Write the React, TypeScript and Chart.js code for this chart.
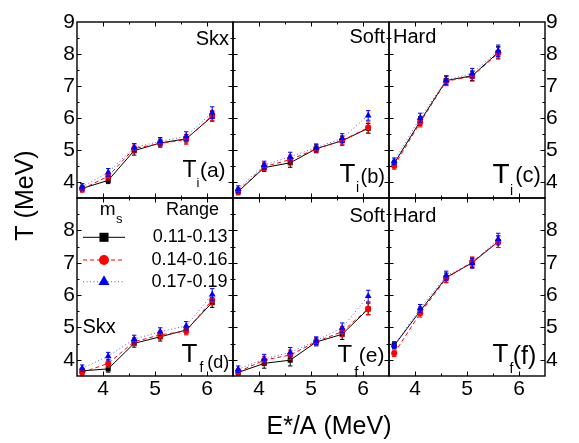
import React, { useEffect, useRef } from "react";
import { Chart, registerables } from "chart.js";

Chart.register(...registerables);

const FONT = "'Liberation Sans', Arial, Helvetica, sans-serif";
const W = 579;
const H = 443;

// Excitation energy per nucleon, E*/A (MeV)
const energySkxSoft = [3.6, 4.1, 4.6, 5.1, 5.6, 6.1];
const energyHard = [3.6, 4.1, 4.6, 5.1, 5.6];

const xTickValues = [4, 5, 6];
const yTickValuesTop = [4, 5, 6, 7, 8, 9];
const yTickValuesBottom = [4, 5, 6, 7, 8];

const msRanges = ["0.11-0.13", "0.14-0.16", "0.17-0.19"];

// Initial temperature T_i (MeV)
const tiSkxLow = [3.8, 4.05, 4.98, 5.22, 5.35, 6.05];
const tiSkxMid = [3.78, 4.18, 5.05, 5.2, 5.33, 6.08];
const tiSkxHigh = [3.85, 4.3, 5.08, 5.27, 5.43, 6.17];
const tiSoftLow = [3.7, 4.45, 4.6, 5.04, 5.29, 5.68];
const tiSoftMid = [3.72, 4.48, 4.7, 5.03, 5.3, 5.7];
const tiSoftHigh = [3.78, 4.53, 4.79, 5.07, 5.37, 6.08];
const tiHardLow = [4.58, 5.9, 7.17, 7.32, 8.05];
const tiHardMid = [4.5, 5.86, 7.15, 7.3, 8.02];
const tiHardHigh = [4.65, 6.01, 7.18, 7.4, 8.1];

// Final temperature T_f (MeV)
const tfSkxLow = [3.66, 3.72, 4.51, 4.71, 4.92, 5.77];
const tfSkxMid = [3.61, 3.89, 4.56, 4.77, 4.89, 5.85];
const tfSkxHigh = [3.74, 4.11, 4.64, 4.87, 5.05, 6.02];
const tfSoftLow = [3.61, 3.89, 3.99, 4.55, 4.79, 5.57];
const tfSoftMid = [3.63, 3.99, 4.15, 4.56, 4.87, 5.58];
const tfSoftHigh = [3.71, 4.03, 4.23, 4.59, 4.99, 5.97];
const tfHardLow = [4.44, 5.51, 6.54, 7.0, 7.65];
const tfHardMid = [4.2, 5.44, 6.52, 7.03, 7.65];
const tfHardHigh = [4.46, 5.59, 6.6, 6.98, 7.73];

// Statistical uncertainties (MeV)
const tiSkxLowErr = [0.1, 0.1, 0.14, 0.12, 0.13, 0.15];
const tiSkxMidErr = [0.1, 0.12, 0.14, 0.12, 0.15, 0.15];
const tiSkxHighErr = [0.1, 0.12, 0.12, 0.12, 0.14, 0.18];
const tiSoftLowErr = [0.1, 0.12, 0.14, 0.12, 0.14, 0.15];
const tiSoftMidErr = [0.1, 0.12, 0.14, 0.12, 0.14, 0.18];
const tiSoftHighErr = [0.1, 0.12, 0.14, 0.12, 0.14, 0.15];
const tiHardLowErr = [0.1, 0.14, 0.14, 0.15, 0.18];
const tiHardMidErr = [0.1, 0.14, 0.14, 0.15, 0.18];
const tiHardHighErr = [0.1, 0.14, 0.14, 0.15, 0.18];
const tfSkxLowErr = [0.08, 0.1, 0.12, 0.13, 0.12, 0.15];
const tfSkxMidErr = [0.1, 0.12, 0.12, 0.12, 0.12, 0.15];
const tfSkxHighErr = [0.1, 0.12, 0.12, 0.12, 0.13, 0.18];
const tfSoftLowErr = [0.08, 0.15, 0.18, 0.12, 0.16, 0.18];
const tfSoftMidErr = [0.1, 0.12, 0.15, 0.12, 0.16, 0.18];
const tfSoftHighErr = [0.1, 0.14, 0.15, 0.12, 0.15, 0.18];
const tfHardLowErr = [0.1, 0.12, 0.14, 0.15, 0.18];
const tfHardMidErr = [0.1, 0.12, 0.14, 0.15, 0.18];
const tfHardHighErr = [0.1, 0.12, 0.14, 0.15, 0.18];

// Panel grid (canvas pixels)
const COLS = [77, 233, 389, 545];
const ROWS = [22, 198, 376];
// Space reserved for tick labels outside a panel
const Y_LABEL_BAND = 30;
const X_LABEL_BAND = 30;

const SERIES_STYLE = [
  { line: "#000000", marker: "#000000", dash: [] as number[], pointStyle: "rect", radius: 3.6, legendR: 6.4 },
  { line: "#ff0000", marker: "#ff0000", dash: [4, 3], pointStyle: "circle", radius: 3, legendR: 5 },
  { line: "#5555ff", marker: "#0000ff", dash: [1, 2.5], pointStyle: "triangle", radius: 3.9, legendR: 6.4 },
];

type TLabel = {
  sub: string;
  tag: string;
  x: number;
  base: number;
  tSize: number;
  subSize: number;
  subDrop: number;
  subGap: number;
  tagSize: number;
  tagDrop: number;
  tagGap: number;
};

type PanelSpec = {
  col: number;
  row: number;
  x: number[];
  series: number[][];
  errors: number[][];
  yTicks: number[];
  yLabels: "left" | "right" | null;
  xLabels: boolean;
  eos: { text: string; align: "left" | "right"; dx: number; base: number };
  tLabel: TLabel;
  legend?: boolean;
  titles?: boolean;
};

const PANELS: PanelSpec[] = [
  {
    col: 0, row: 0, x: energySkxSoft,
    series: [tiSkxLow, tiSkxMid, tiSkxHigh],
    errors: [tiSkxLowErr, tiSkxMidErr, tiSkxHighErr],
    yTicks: yTickValuesTop, yLabels: "left", xLabels: false,
    eos: { text: "Skx", align: "right", dx: -4, base: 23 },
    tLabel: { sub: "i", tag: "(a)", x: 105.5, base: 154.7, tSize: 23, subSize: 13, subDrop: 10, subGap: 0, tagSize: 21, tagDrop: 0, tagGap: 0.5 },
    titles: true,
  },
  {
    col: 1, row: 0, x: energySkxSoft,
    series: [tiSoftLow, tiSoftMid, tiSoftHigh],
    errors: [tiSoftLowErr, tiSoftMidErr, tiSoftHighErr],
    yTicks: yTickValuesTop, yLabels: null, xLabels: false,
    eos: { text: "Soft", align: "right", dx: -4, base: 21 },
    tLabel: { sub: "i", tag: "(b)", x: 106.5, base: 159.7, tSize: 26, subSize: 14, subDrop: 10, subGap: 0.5, tagSize: 20, tagDrop: 1, tagGap: 1.5 },
  },
  {
    col: 2, row: 0, x: energyHard,
    series: [tiHardLow, tiHardMid, tiHardHigh],
    errors: [tiHardLowErr, tiHardMidErr, tiHardHighErr],
    yTicks: yTickValuesTop, yLabels: "right", xLabels: false,
    eos: { text: "Hard", align: "left", dx: 4, base: 21 },
    tLabel: { sub: "i", tag: "(c)", x: 103.5, base: 161.3, tSize: 28, subSize: 14, subDrop: 11.7, subGap: 0.5, tagSize: 22, tagDrop: -1.3, tagGap: 2 },
  },
  {
    col: 0, row: 1, x: energySkxSoft,
    series: [tfSkxLow, tfSkxMid, tfSkxHigh],
    errors: [tfSkxLowErr, tfSkxMidErr, tfSkxHighErr],
    yTicks: yTickValuesBottom, yLabels: "left", xLabels: true,
    eos: { text: "Skx", align: "left", dx: 5.5, base: 135 },
    tLabel: { sub: "f", tag: "(d)", x: 104.5, base: 163.7, tSize: 26, subSize: 14, subDrop: 10, subGap: 2, tagSize: 18, tagDrop: 6.3, tagGap: 4 },
    legend: true,
  },
  {
    col: 1, row: 1, x: energySkxSoft,
    series: [tfSoftLow, tfSoftMid, tfSoftHigh],
    errors: [tfSoftLowErr, tfSoftMidErr, tfSoftHighErr],
    yTicks: yTickValuesBottom, yLabels: null, xLabels: true,
    eos: { text: "Soft", align: "right", dx: -4, base: 23.7 },
    tLabel: { sub: "f", tag: "(e)", x: 104.5, base: 163.7, tSize: 24, subSize: 15, subDrop: 15, subGap: 2, tagSize: 21, tagDrop: 0, tagGap: 0.5 },
  },
  {
    col: 2, row: 1, x: energyHard,
    series: [tfHardLow, tfHardMid, tfHardHigh],
    errors: [tfHardLowErr, tfHardMidErr, tfHardHighErr],
    yTicks: yTickValuesBottom, yLabels: "right", xLabels: true,
    eos: { text: "Hard", align: "left", dx: 4, base: 23.7 },
    tLabel: { sub: "f", tag: "(f)", x: 103.5, base: 163.7, tSize: 26, subSize: 14, subDrop: 11.3, subGap: 1, tagSize: 25, tagDrop: 2.3, tagGap: -0.5 },
  },
];

const font = (size: number) => `${size}px ${FONT}`;

function drawMarker(ctx: CanvasRenderingContext2D, style: string, x: number, y: number, r: number, color: string) {
  ctx.fillStyle = color;
  ctx.beginPath();
  if (style === "rect") {
    const s = r * Math.SQRT1_2;
    ctx.rect(x - s, y - s, 2 * s, 2 * s);
  } else if (style === "triangle") {
    let a = 0;
    ctx.moveTo(x + Math.sin(a) * r, y - Math.cos(a) * r);
    a += (2 * Math.PI) / 3;
    ctx.lineTo(x + Math.sin(a) * r, y - Math.cos(a) * r);
    a += (2 * Math.PI) / 3;
    ctx.lineTo(x + Math.sin(a) * r, y - Math.cos(a) * r);
    ctx.closePath();
  } else {
    ctx.arc(x, y, r, 0, Math.PI * 2);
  }
  ctx.fill();
}

// Vertical error bars with caps, drawn under each dataset's markers
const errorBarPlugin = {
  id: "errorBars",
  beforeDatasetDraw(chart: any, args: any) {
    const ds = chart.data.datasets[args.index];
    const errs: number[] | undefined = ds.errors;
    if (!errs) return;
    const { ctx } = chart;
    const yScale = chart.scales.y;
    ctx.save();
    ctx.strokeStyle = ds.pointBackgroundColor;
    ctx.lineWidth = 1;
    ctx.setLineDash([]);
    ctx.beginPath();
    args.meta.data.forEach((pt: any, i: number) => {
      const v = ds.data[i].y;
      const hi = yScale.getPixelForValue(v + errs[i]);
      const lo = yScale.getPixelForValue(v - errs[i]);
      const px = pt.x;
      ctx.moveTo(px, hi);
      ctx.lineTo(px, lo);
      ctx.moveTo(px - 2.2, hi);
      ctx.lineTo(px + 2.2, hi);
      ctx.moveTo(px - 2.2, lo);
      ctx.lineTo(px + 2.2, lo);
    });
    ctx.stroke();
    ctx.restore();
  },
};

// Panel frame with inward major/minor ticks on all four sides
const framePlugin = {
  id: "frame",
  afterDatasetsDraw(chart: any) {
    const { ctx, chartArea: a } = chart;
    const { x, y } = chart.scales;
    const MAJOR = 4.5;
    const MINOR = 2.5;
    ctx.save();
    ctx.strokeStyle = "#000";
    ctx.lineWidth = 1;
    ctx.setLineDash([]);
    ctx.beginPath();
    for (let v = x.min + 0.5; v < x.max; v += 0.5) {
      const len = Number.isInteger(v) ? MAJOR : MINOR;
      const px = Math.round(x.getPixelForValue(v)) + 0.5;
      ctx.moveTo(px, a.bottom);
      ctx.lineTo(px, a.bottom - len);
      ctx.moveTo(px, a.top);
      ctx.lineTo(px, a.top + len);
    }
    for (let v = y.min + 0.5; v < y.max; v += 0.5) {
      const len = Number.isInteger(v) ? MAJOR : MINOR;
      const py = Math.round(y.getPixelForValue(v)) + 0.5;
      ctx.moveTo(a.left, py);
      ctx.lineTo(a.left + len, py);
      ctx.moveTo(a.right, py);
      ctx.lineTo(a.right - len, py);
    }
    ctx.stroke();
    ctx.lineWidth = 1.4;
    ctx.strokeRect(a.left, a.top, a.right - a.left, a.bottom - a.top);
    ctx.restore();
  },
};

// Panel annotations: EOS name, temperature label, legend and shared axis titles
const annotationPlugin = {
  id: "annotations",
  afterDraw(chart: any, _args: any, opts: any) {
    const spec: PanelSpec = opts.spec;
    const { ctx, chartArea: a } = chart;
    ctx.save();
    ctx.fillStyle = "#000";
    ctx.textBaseline = "alphabetic";

    // EOS name
    ctx.font = font(20);
    ctx.textAlign = spec.eos.align;
    const ex = spec.eos.align === "right" ? a.right + spec.eos.dx : a.left + spec.eos.dx;
    ctx.fillText(spec.eos.text, ex, a.top + spec.eos.base);

    // T_i / T_f label
    const t = spec.tLabel;
    ctx.textAlign = "left";
    let cx = a.left + t.x;
    const base = a.top + t.base;
    ctx.font = font(t.tSize);
    ctx.fillText("T", cx, base);
    cx += ctx.measureText("T").width + t.subGap;
    ctx.font = font(t.subSize);
    ctx.fillText(t.sub, cx, base + t.subDrop);
    cx += ctx.measureText(t.sub).width + t.tagGap;
    ctx.font = font(t.tagSize);
    ctx.fillText(t.tag, cx, base + t.tagDrop);

    if (spec.legend) {
      const hx = a.left + 22.7;
      const hy = a.top + 17;
      ctx.font = font(19);
      ctx.fillText("m", hx, hy);
      const mw = ctx.measureText("m").width;
      ctx.font = font(13);
      ctx.fillText("s", hx + mw + 0.5, hy + 8);
      ctx.font = font(18);
      ctx.fillText("Range", a.left + 89, hy);

      const rowsY = [39.3, 62, 83.7];
      chart.data.datasets.forEach((ds: any, k: number) => {
        const st = SERIES_STYLE[k];
        const ry = a.top + rowsY[k];
        ctx.strokeStyle = st.line;
        ctx.lineWidth = 1;
        ctx.setLineDash(st.dash);
        ctx.beginPath();
        ctx.moveTo(a.left + 6, ry);
        ctx.lineTo(a.left + 48, ry);
        ctx.stroke();
        ctx.setLineDash([]);
        drawMarker(ctx, st.pointStyle, a.left + 27, ry, st.legendR, st.marker);
        ctx.fillStyle = "#000";
        ctx.font = font(18);
        ctx.textAlign = "right";
        ctx.textBaseline = "middle";
        ctx.fillText(ds.label, a.left + 150.5, ry);
        ctx.textAlign = "left";
        ctx.textBaseline = "alphabetic";
      });
    }

    if (spec.titles) {
      ctx.font = font(25);
      ctx.textAlign = "center";
      ctx.textBaseline = "middle";
      ctx.save();
      ctx.translate(26, 195.5);
      ctx.rotate(-Math.PI / 2);
      ctx.fillText("T (MeV)", 0, 0);
      ctx.restore();
      ctx.fillText("E*/A (MeV)", 329, 427);
    }
    ctx.restore();
  },
};

function Panel({ spec }: { spec: PanelSpec }) {
  const ref = useRef<HTMLCanvasElement>(null);

  useEffect(() => {
    const canvas = ref.current;
    if (!canvas) return;
    const left = COLS[spec.col];
    const right = COLS[spec.col + 1];
    const top = ROWS[spec.row];
    const bottom = ROWS[spec.row + 1];
    const yBand = spec.yLabels ? Y_LABEL_BAND : 0;
    const xBand = spec.xLabels ? X_LABEL_BAND : 0;

    const chart = new Chart(canvas, {
      type: "line",
      data: {
        datasets: spec.series.map((vals, k) => {
          const st = SERIES_STYLE[k];
          return {
            label: msRanges[k],
            data: spec.x.map((xv, i) => ({ x: xv, y: vals[i] })),
            errors: spec.errors[k],
            borderColor: st.line,
            borderWidth: 1,
            borderDash: st.dash,
            pointStyle: st.pointStyle,
            pointRadius: st.radius,
            pointBorderWidth: 0,
            pointBackgroundColor: st.marker,
            pointBorderColor: st.marker,
            tension: 0,
            order: 3 - k,
          } as any;
        }),
      },
      options: {
        animation: false,
        responsive: false,
        maintainAspectRatio: false,
        devicePixelRatio: 1,
        events: [],
        layout: {
          padding: {
            left: left - (spec.yLabels === "left" ? yBand : 0),
            top,
            right: W - right - (spec.yLabels === "right" ? yBand : 0),
            bottom: H - bottom - xBand,
          },
        },
        plugins: {
          legend: { display: false },
          tooltip: { enabled: false },
          annotations: { spec },
        } as any,
        scales: {
          x: {
            type: "linear",
            min: 3.5,
            max: 6.5,
            afterBuildTicks: (s: any) => {
              s.ticks = xTickValues.map((v) => ({ value: v }));
            },
            afterFit: (s: any) => {
              s.height = xBand;
            },
            grid: { display: false, drawTicks: false },
            border: { display: false },
            ticks: {
              display: spec.xLabels,
              font: { family: FONT, size: 21 },
              color: "#000",
              padding: 1,
              maxRotation: 0,
              autoSkip: false,
            },
          },
          y: {
            type: "linear",
            position: spec.yLabels === "right" ? "right" : "left",
            min: 3.5,
            max: 9,
            afterBuildTicks: (s: any) => {
              s.ticks = spec.yTicks.map((v) => ({ value: v }));
            },
            afterFit: (s: any) => {
              s.width = yBand;
            },
            grid: { display: false, drawTicks: false },
            border: { display: false },
            ticks: {
              display: spec.yLabels !== null,
              font: { family: FONT, size: 21 },
              color: "#000",
              padding: spec.yLabels === "right" ? 1 : 2,
              autoSkip: false,
            },
          },
        },
      } as any,
      plugins: [errorBarPlugin, framePlugin, annotationPlugin],
    });
    return () => chart.destroy();
  }, [spec]);

  return (
    <canvas
      ref={ref}
      width={W}
      height={H}
      style={{ position: "absolute", left: 0, top: 0, width: W, height: H }}
    />
  );
}

export default function App() {
  return (
    <div style={{ position: "fixed", left: 0, top: 0, width: W, height: H, background: "#fff" }}>
      {PANELS.map((p, i) => (
        <Panel key={i} spec={p} />
      ))}
    </div>
  );
}
